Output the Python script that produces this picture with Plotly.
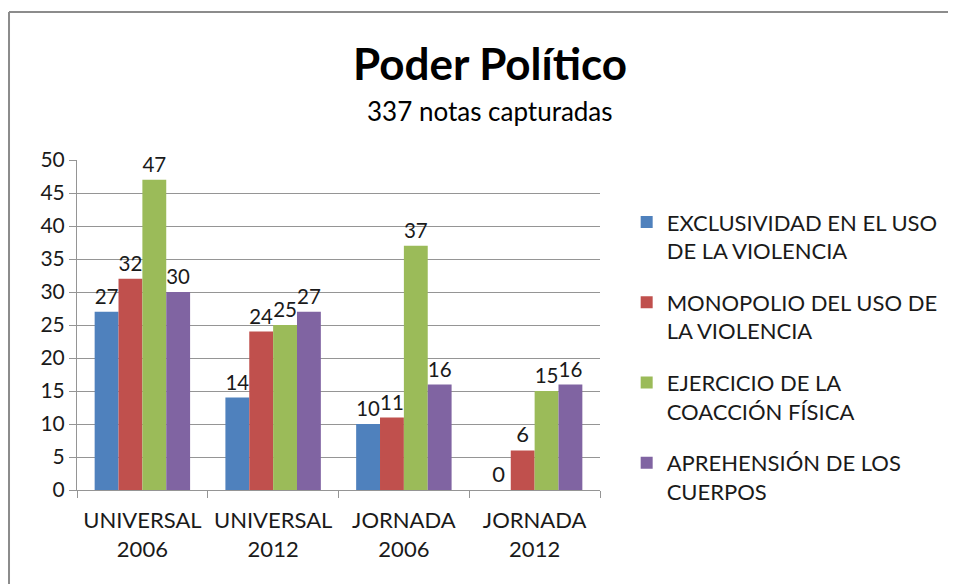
import plotly.graph_objects as go

categories = ["UNIVERSAL<br>2006", "UNIVERSAL<br>2012", "JORNADA<br>2006", "JORNADA<br>2012"]
series_names = [
    "EXCLUSIVIDAD EN EL USO<br>DE LA VIOLENCIA",
    "MONOPOLIO DEL USO DE<br>LA VIOLENCIA",
    "EJERCICIO DE LA<br>COACCIÓN FÍSICA",
    "APREHENSIÓN DE LOS<br>CUERPOS",
]
exclusividad = [27, 14, 10, 0]
monopolio = [32, 24, 11, 6]
ejercicio = [47, 25, 37, 15]
aprehension = [30, 27, 16, 16]
colors = ["#4F81BD", "#C0504D", "#9BBB59", "#8064A2"]

FONT = "Lato, 'Open Sans', sans-serif"
TXT = "#1a1a1a"
GRID = "#959595"
BORDER = "#8c8c8c"

fig = go.Figure()
for i, (name, vals) in enumerate(zip(series_names, [exclusividad, monopolio, ejercicio, aprehension])):
    fig.add_trace(go.Bar(
        x=categories, y=vals, name=name, marker_color=colors[i],
        marker_line_width=0,
        text=[str(v) for v in vals], textposition="outside",
        textfont=dict(size=22, color=TXT, family=FONT),
        cliponaxis=False, legendgroup=str(i),
    ))

fig.update_layout(
    width=948, height=576,
    margin=dict(l=69, r=356, t=152, b=94),
    paper_bgcolor="white", plot_bgcolor="white",
    barmode="group", bargap=0.27, bargroupgap=0,
    font=dict(family=FONT, size=20, color=TXT),
    showlegend=True,
    legend=dict(x=1.051, xanchor="left", y=0.875, yanchor="top",
                font=dict(size=22, color=TXT, family=FONT),
                tracegroupgap=20, valign="top", traceorder="grouped",
                itemwidth=30),
    annotations=[
        dict(text="<b>Poder Político</b>", xref="paper", yref="paper",
             x=0.79, y=1.293, xanchor="center", yanchor="middle",
             showarrow=False, font=dict(size=44, color="black", family=FONT)),
        dict(text="337 notas capturadas", xref="paper", yref="paper",
             x=0.79, y=1.15, xanchor="center", yanchor="middle",
             showarrow=False, font=dict(size=26, color="black", family=FONT)),
    ],
    shapes=[
        dict(type="line", xref="paper", yref="paper",
             x0=-0.130, y0=1.4485, x1=1.8, y1=1.4485,
             line=dict(color=BORDER, width=2), layer="below"),
        dict(type="line", xref="paper", yref="paper",
             x0=-0.130, y0=-0.5, x1=-0.130, y1=1.4485,
             line=dict(color=BORDER, width=2), layer="below"),
    ],
)
fig.update_yaxes(range=[0, 50], dtick=5, showgrid=True, gridcolor=GRID, gridwidth=1,
                 showline=True, linecolor=GRID, linewidth=1,
                 ticks="outside", ticklen=7, tickcolor=GRID,
                 tickfont=dict(size=21, color=TXT), zeroline=False, automargin=False)
fig.update_xaxes(showline=True, linecolor=GRID, linewidth=1,
                 ticks="outside", tickson="boundaries", ticklen=7, tickcolor=GRID,
                 tickfont=dict(size=22, color=TXT), showgrid=False, automargin=False,
                 ticklabelstandoff=11)

fig.write_html("out.html")
